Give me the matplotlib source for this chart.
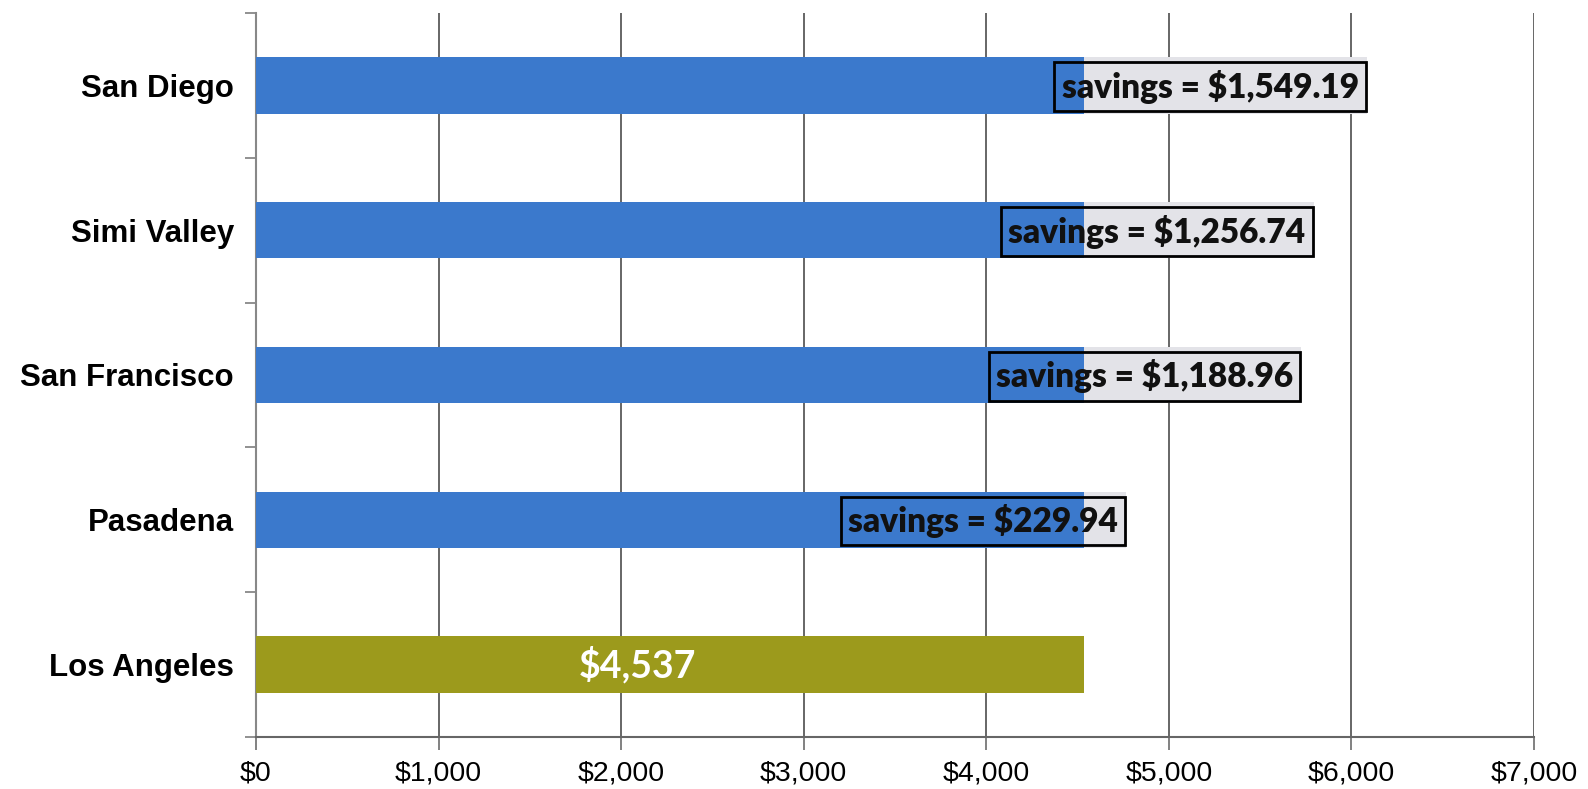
import matplotlib
matplotlib.use("Agg")
import matplotlib.pyplot as plt
import numpy as np

# ---- data ----
cities = ["Los Angeles", "Pasadena", "San Francisco", "Simi Valley", "San Diego"]
base_cost = [4537, 4537, 4537, 4537, 4537]
savings = [0, 229.94, 1188.96, 1256.74, 1549.19]
x_ticks = [0, 1000, 2000, 3000, 4000, 5000, 6000, 7000]
x_labels = ["$0", "$1,000", "$2,000", "$3,000", "$4,000", "$5,000", "$6,000", "$7,000"]
la_label = "$4,537"

blue = "#3b79cc"
olive = "#9c9a1c"
light = "#e3e3e8"
grid_c = "#5a5a5a"

fig = plt.figure(figsize=(15.88, 7.89), dpi=100)
ax = fig.add_axes([0.1612, 0.066, 0.966 - 0.1612, 0.9835 - 0.066])

y = np.arange(len(cities))
h = 0.39
colors = [olive] + [blue] * (len(cities) - 1)
ax.barh(y, base_cost, height=h, color=colors, zorder=3)
ax.barh(y[1:], savings[1:], left=base_cost[1:], height=h, color=light, zorder=3)

ax.set_xlim(0, 7000)
ax.set_ylim(-0.5, len(cities) - 0.5)
ax.set_xticks(x_ticks)
ax.set_xticklabels(x_labels, fontsize=20.5, family="Liberation Sans")
ax.xaxis.grid(True, color=grid_c, linewidth=1.3, zorder=0)
ax.set_yticks(y)
ax.set_yticklabels(cities, fontsize=22.5, family="Liberation Sans", fontweight="bold")
ax.set_yticks(np.arange(-0.5, len(cities)), minor=True)
ax.tick_params(axis="y", which="major", length=0, pad=16)
ax.tick_params(axis="y", which="minor", length=8, color="#888888", width=1.3, direction="out")
ax.tick_params(axis="x", length=9, color="#777777", width=1.3, pad=8)

for s in ["top", "right"]:
    ax.spines[s].set_visible(False)
ax.spines["left"].set_color("#888888")
ax.spines["left"].set_linewidth(1.5)
ax.spines["bottom"].set_color("#666666")
ax.spines["bottom"].set_linewidth(1.5)

# savings labels
for yi, b, s in zip(y[1:], base_cost[1:], savings[1:]):
    ax.annotate(f"savings = ${s:,.2f}", xy=(b + s, yi), xytext=(-6, -1),
                textcoords="offset points", ha="right", va="center",
                fontsize=24, fontweight="heavy", family="Lato", color="#111111",
                zorder=5,
                bbox=dict(boxstyle="square,pad=0.22", facecolor="none",
                          edgecolor="black", linewidth=2))

# LA label
ax.text(base_cost[0] * 0.461, y[0], la_label, ha="center", va="center",
        fontsize=27, fontweight="bold", family="Lato", color="white", zorder=5)

fig.savefig("out.png", dpi=100)
